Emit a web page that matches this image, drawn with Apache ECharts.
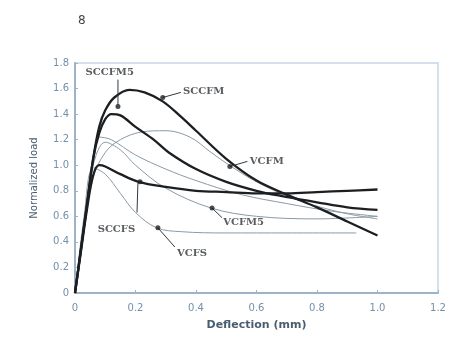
<!DOCTYPE html>
<html>
<head>
<meta charset="utf-8">
<script src="https://cdn.jsdelivr.net/npm/echarts@6/dist/echarts.min.js"></script>
<style>
  html, body { margin: 0; padding: 0; background: #fff; }
  #page { position: relative; width: 449px; height: 337px; }
  #num { position: absolute; left: 78px; top: 13px; font: 12px "DejaVu Sans", sans-serif; color: #444; }
  #chart { position: absolute; left: 0; top: 0; width: 449px; height: 337px; }
</style>
</head>
<body>
<div id="page">
  <div id="chart"></div>
  <div id="num">8</div>
</div>
<script>
// 曲线数据 [挠度 mm, 归一化荷载]
const sccfm = [[0,0],[0.02,0.35],[0.04,0.7],[0.06,1.05],[0.08,1.3],[0.1,1.43],[0.13,1.53],[0.18,1.59],[0.23,1.57],[0.29,1.5],[0.35,1.38],[0.4,1.27],[0.5,1.05],[0.6,0.88],[0.7,0.77],[0.8,0.67],[0.9,0.56],[1.0,0.45]]
const sccfm5 = [[0,0],[0.02,0.35],[0.04,0.7],[0.06,1.05],[0.08,1.25],[0.1,1.36],[0.12,1.4],[0.15,1.39],[0.2,1.3],[0.26,1.2],[0.31,1.1],[0.4,0.97],[0.5,0.87],[0.6,0.8],[0.68,0.76],[0.8,0.71],[0.9,0.67],[1.0,0.65]]
const sccfs = [[0,0],[0.02,0.33],[0.04,0.66],[0.06,0.92],[0.08,1.0],[0.1,0.99],[0.15,0.93],[0.21,0.87],[0.3,0.83],[0.4,0.8],[0.5,0.79],[0.6,0.78],[0.7,0.78],[0.8,0.79],[0.9,0.8],[1.0,0.81]]
const vcfm = [[0,0],[0.03,0.5],[0.06,0.9],[0.1,1.1],[0.15,1.2],[0.22,1.26],[0.3,1.27],[0.38,1.22],[0.45,1.1],[0.51,1.0],[0.6,0.87],[0.7,0.76],[0.8,0.68],[0.9,0.62],[1.0,0.58]]
const vcfm5 = [[0,0],[0.03,0.55],[0.06,1.0],[0.1,1.18],[0.15,1.12],[0.2,1.0],[0.3,0.82],[0.45,0.665],[0.6,0.6],[0.8,0.58],[1.0,0.6]]
const vcfs = [[0,0],[0.03,0.6],[0.06,0.98],[0.1,0.93],[0.15,0.78],[0.2,0.63],[0.27,0.51],[0.35,0.48],[0.5,0.47],[0.7,0.47],[0.93,0.47]]
const extra = [[0,0],[0.03,0.55],[0.06,1.05],[0.08,1.22],[0.12,1.2],[0.2,1.08],[0.3,0.97],[0.4,0.88],[0.55,0.77],[0.7,0.7],[0.85,0.64],[1.0,0.6]]

// 标注：文字、文字位置、引线、圆点
const labelNames = ['SCCFM5', 'SCCFM', 'VCFM', 'VCFM5', 'VCFS', 'SCCFS']
const labelPos = [[0.035,1.73],[0.357,1.58],[0.578,1.03],[0.49,0.55],[0.337,0.31],[0.075,0.5]]
const leaders = [
  [[0.142,1.67],[0.142,1.47]],
  [[0.29,1.53],[0.35,1.57]],
  [[0.512,0.99],[0.57,1.03]],
  [[0.453,0.665],[0.486,0.59]],
  [[0.274,0.51],[0.33,0.36]],
  [[0.205,0.63],[0.208,0.86]]
]
const dots = [[0.142,1.46],[0.29,1.53],[0.512,0.99],[0.453,0.665],[0.274,0.51],[0.215,0.87]]

const axisColor = '#9db4c8'
const tickText = '#7590aa'

function curve(data, thick) {
  return {
    type: 'line',
    data: data,
    smooth: 0.35,
    showSymbol: false,
    silent: true,
    z: thick ? 3 : 2,
    lineStyle: thick
      ? { color: '#1c1f22', width: 2.3 }
      : { color: '#8a9aa6', width: 1 }
  }
}

const series = [
  curve(extra, false),
  curve(vcfm, false),
  curve(vcfm5, false),
  curve(vcfs, false),
  curve(sccfs, true),
  curve(sccfm5, true),
  curve(sccfm, true)
]

leaders.forEach(seg => {
  series.push({
    type: 'line',
    data: seg,
    showSymbol: false,
    silent: true,
    z: 4,
    lineStyle: { color: '#33393e', width: 1 }
  })
})

series.push({
  type: 'scatter',
  data: dots,
  symbolSize: 5,
  silent: true,
  z: 5,
  itemStyle: { color: '#1c1f22' }
})

series.push({
  type: 'scatter',
  data: labelPos.map((p, i) => ({ value: p, name: labelNames[i] })),
  symbolSize: 0,
  silent: true,
  z: 6,
  label: {
    show: true,
    position: 'right',
    distance: 0,
    formatter: p => p.name,
    fontFamily: 'DejaVu Serif',
    fontWeight: 'bold',
    fontSize: 10,
    color: '#2f3438'
  }
})

const chart = echarts.init(document.getElementById('chart'), null, { renderer: 'canvas' })
chart.setOption({
  animation: false,
  backgroundColor: '#fff',
  grid: { left: 75, right: 11, top: 63, bottom: 44, show: true, borderColor: '#c6d8e6', borderWidth: 1.5 },
  xAxis: {
    type: 'value',
    min: 0,
    max: 1.2,
    interval: 0.2,
    name: 'Deflection (mm)',
    nameLocation: 'middle',
    nameGap: 27,
    nameTextStyle: { fontFamily: 'DejaVu Sans', fontWeight: 'bold', fontSize: 11, color: '#4a5d70' },
    axisLine: { lineStyle: { color: axisColor, width: 2 } },
    axisTick: { show: true, inside: true, length: 3, lineStyle: { color: axisColor } },
    splitLine: { show: false },
    axisLabel: {
      color: tickText,
      fontSize: 10,
      fontFamily: 'DejaVu Sans',
      margin: 10,
      formatter: v => (v === 0 ? '0' : v.toFixed(1))
    }
  },
  yAxis: {
    type: 'value',
    min: 0,
    max: 1.8,
    interval: 0.2,
    name: 'Normalized load',
    nameLocation: 'middle',
    nameGap: 36,
    nameTextStyle: { fontFamily: 'DejaVu Sans', fontSize: 10, color: '#4a5d70' },
    axisLine: { show: true, lineStyle: { color: axisColor, width: 2 } },
    axisTick: { show: true, inside: true, length: 3, lineStyle: { color: axisColor } },
    splitLine: { show: false },
    axisLabel: {
      color: tickText,
      fontSize: 10,
      fontFamily: 'DejaVu Sans',
      margin: 6,
      formatter: v => (v === 0 ? '0' : v.toFixed(1))
    }
  },
  series: series
})
</script>
</body>
</html>
